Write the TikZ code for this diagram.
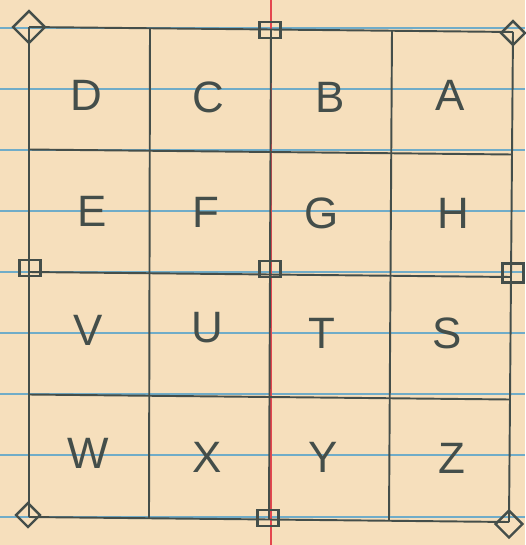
\documentclass[tikz,border=0pt]{standalone}
\usepackage{fontspec}
\setsansfont{Liberation Sans}
\usetikzlibrary{shapes.geometric,calc}
\definecolor{carta}{RGB}{246,223,188}
\definecolor{matita}{RGB}{68,78,74}
\definecolor{rigo}{RGB}{112,172,200}
\definecolor{margine}{RGB}{228,70,78}
\tikzset{
  pencil/.style={draw=matita,line width=1.1pt},
  lettera/.style={text=matita,font=\sffamily\fontsize{25}{25}\selectfont,inner sep=0pt},
  rombo/.style={pencil,line width=1.4pt,diamond,minimum size=0.5cm,inner sep=0pt},
  quadretto/.style={pencil,line width=1.4pt,rectangle,minimum width=0.42cm,minimum height=0.32cm,inner sep=0pt}
}
\begin{document}
\begin{tikzpicture}[x=0.02cm,y=-0.02cm]
        %foglio
        \fill[carta](0,0)rectangle(525,545);
        \useasboundingbox(0,0)rectangle(525,545);
        %righe azzurre
        \foreach \y in {28,89,150,211,272,333,394,455,517}
            \draw[rigo,line width=0.6pt](0,\y)--(525,\y);
        %margine rosso
        \draw[margine,line width=0.6pt](271,0)--(271,545);
        %angoli della griglia
        \coordinate(tl)at(29,27);
        \coordinate(tr)at(513,32);
        \coordinate(bl)at(29,517);
        \coordinate(br)at(509,522);
        %griglia 4x4
        \foreach \f in {0,0.25,0.5,0.75,1}{
            \draw[pencil]($(tl)!\f!(tr)$)--($(bl)!\f!(br)$); %verticali
            \draw[pencil]($(tl)!\f!(bl)$)--($(tr)!\f!(br)$); %orizzontali
        }
        %rombi agli angoli
        \node[rombo,minimum size=0.66cm](dTL)at(29,27){};
        \node[rombo,minimum size=0.5cm](dTR)at(513,33){};
        \node[rombo,minimum size=0.5cm](dBL)at(28,515){};
        \node[rombo,minimum size=0.56cm](dBR)at(509,524){};
        %quadretti
        \node[quadretto](qT)at(270,30){};
        \node[quadretto](qL)at(30,268){};
        \node[quadretto](qC)at(270,269){};
        \node[quadretto,minimum height=0.38cm](qR)at(513,273){};
        \node[quadretto](qB)at(268,518){};
        %lettere
        \node[lettera](lD)at(86,95){D};
        \node[lettera](lC)at(208,97){C};
        \node[lettera](lB)at(330,97){B};
        \node[lettera](lA)at(450,95){A};
        \node[lettera](lE)at(92,211){E};
        \node[lettera](lF)at(206,212){F};
        \node[lettera](lG)at(322,213){G};
        \node[lettera](lH)at(453,213){H};
        \node[lettera](lV)at(88,330){V};
        \node[lettera](lU)at(207,328){U};
        \node[lettera](lT)at(322,333){T};
        \node[lettera](lS)at(447,333){S};
        \node[lettera](lW)at(88,453){W};
        \node[lettera](lX)at(207,457){X};
        \node[lettera](lY)at(323,457){Y};
        \node[lettera](lZ)at(452,458){Z};
\end{tikzpicture}
\end{document}
